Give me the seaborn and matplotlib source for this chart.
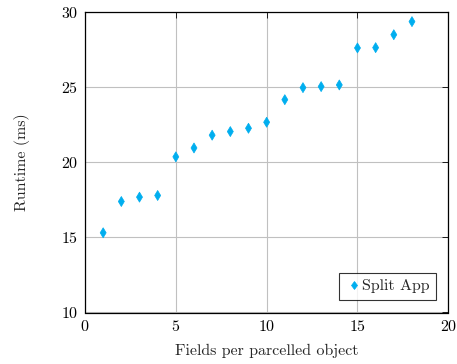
import matplotlib
matplotlib.use("Agg")
import matplotlib.pyplot as plt
import seaborn as sns
import pandas as pd

fields = list(range(1, 19))
runtime = [15.30, 17.38, 17.67, 17.78, 20.35, 20.94, 21.79, 22.03, 22.25,
           22.65, 24.15, 24.95, 25.02, 25.13, 27.59, 27.61, 28.47, 29.34]
series = "Split App"
xticks = [0, 5, 10, 15, 20]
yticks = [10, 15, 20, 25, 30]

sns.set_theme(style="white")
plt.rcParams["font.family"] = ["cmr10", "DejaVu Serif"]
plt.rcParams["axes.formatter.use_mathtext"] = True
plt.rcParams["mathtext.fontset"] = "cm"

df = pd.DataFrame({"x": fields, "y": runtime, "s": series})

fig = plt.figure(figsize=(4.57, 3.64), dpi=100)
ax = fig.add_axes([85/457, 1 - 312.5/364, (448.3-85)/457, (312.5-11.7)/364])
sns.scatterplot(data=df, x="x", y="y", hue="s", palette=["#00AEEF"], marker="d",
                s=26, edgecolor="#00AEEF", linewidth=0.5, ax=ax, zorder=3)
ax.set_xlim(0, 20)
ax.set_ylim(10, 30)
ax.set_xticks(xticks)
ax.set_yticks(yticks)
ax.grid(True, color="#c0c0c0", linewidth=0.8)
ax.tick_params(direction="in", length=4, width=0.6, top=True, right=True,
               labelsize=11.5, colors="black", pad=5)
for sp in ax.spines.values():
    sp.set_color("black")
    sp.set_linewidth(0.9)
ax.set_xlabel("Fields per parcelled object", fontsize=11.5, labelpad=7)
ax.set_ylabel("Runtime (ms)", fontsize=11.5, labelpad=22)
leg = ax.legend(loc="lower right", frameon=True, fancybox=False, fontsize=11.5,
                handletextpad=0.0, borderpad=0.4, handlelength=1.0,
                borderaxespad=0.8, markerscale=0.85)
leg.get_frame().set_edgecolor("black")
leg.get_frame().set_linewidth(0.8)
fig.savefig("out.png", dpi=100)
